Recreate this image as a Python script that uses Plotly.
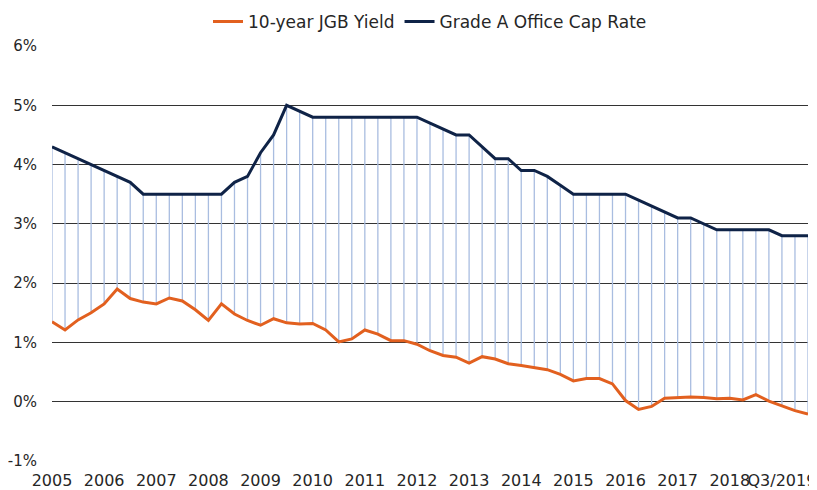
import plotly.graph_objects as go

# Quarterly categories 2005Q1 .. 2019Q3
quarters = [f"{y}Q{q}" for y in range(2005, 2020) for q in range(1, 5)][:59]

cap_rate = [4.3, 4.2, 4.1, 4.0, 3.9, 3.8, 3.7, 3.5, 3.5, 3.5, 3.5, 3.5, 3.5, 3.5,
            3.7, 3.8, 4.2, 4.5, 5.0, 4.9, 4.8, 4.8, 4.8, 4.8, 4.8, 4.8, 4.8, 4.8,
            4.8, 4.7, 4.6, 4.5, 4.5, 4.3, 4.1, 4.1, 3.9, 3.9, 3.8, 3.65, 3.5, 3.5,
            3.5, 3.5, 3.5, 3.4, 3.3, 3.2, 3.1, 3.1, 3.0, 2.9, 2.9, 2.9, 2.9, 2.9,
            2.8, 2.8, 2.8]

jgb_yield = [1.35, 1.21, 1.38, 1.50, 1.65, 1.90, 1.74, 1.68, 1.65, 1.75, 1.70, 1.55,
             1.37, 1.65, 1.48, 1.37, 1.29, 1.40, 1.33, 1.31, 1.32, 1.21, 1.01, 1.06,
             1.21, 1.14, 1.03, 1.03, 0.97, 0.86, 0.78, 0.75, 0.65, 0.76, 0.72, 0.64,
             0.61, 0.58, 0.54, 0.46, 0.35, 0.39, 0.39, 0.30, 0.02, -0.13, -0.08, 0.06,
             0.07, 0.08, 0.07, 0.05, 0.06, 0.03, 0.12, 0.01, -0.07, -0.15, -0.21]

tick_idx = [0, 4, 8, 12, 16, 20, 24, 28, 32, 36, 40, 44, 48, 52, 56]
tick_labels = ["2005", "2006", "2007", "2008", "2009", "2010", "2011", "2012",
               "2013", "2014", "2015", "2016", "2017", "2018", "Q3/2019"]

y_ticks = [-1, 0, 1, 2, 3, 4, 5, 6]
y_labels = ["-1%", "0%", "1%", "2%", "3%", "4%", "5%", "6%"]

xs = list(range(len(quarters)))

# drop lines between the two series
drop_x, drop_y = [], []
for i in xs:
    drop_x += [i, i, None]
    drop_y += [cap_rate[i], jgb_yield[i], None]

ORANGE = "#e2601f"
NAVY = "#0f2347"
DROP = "#a9bde0"
FONT = "DejaVu Sans"
TXT = "#262626"

fig = go.Figure()
fig.add_trace(go.Scatter(x=drop_x, y=drop_y, mode="lines",
                         line=dict(color=DROP, width=1.3),
                         showlegend=False, hoverinfo="skip"))
fig.add_trace(go.Scatter(x=xs, y=jgb_yield, mode="lines", name="10-year JGB Yield",
                         line=dict(color=ORANGE, width=3)))
fig.add_trace(go.Scatter(x=xs, y=cap_rate, mode="lines", name="Grade A Office Cap Rate",
                         line=dict(color=NAVY, width=3)))

# page has an 8px body margin, so the figure is sized to fill the rest of the window
fig.update_layout(
    width=809, height=482,
    margin=dict(l=44, r=9, t=38, b=29, autoexpand=False),
    paper_bgcolor="white", plot_bgcolor="white",
    font=dict(family=FONT, size=16, color=TXT),
    legend=dict(orientation="h", x=0.5, xanchor="center", y=1.058, yanchor="middle",
                font=dict(size=17, color=TXT), itemwidth=30,
                traceorder="normal", bgcolor="rgba(0,0,0,0)"),
    xaxis=dict(range=[0, 58], tickmode="array", tickvals=tick_idx, ticktext=tick_labels,
               showgrid=False, zeroline=False, showline=False, ticks="", tickangle=0,
               tickfont=dict(size=16, color=TXT), ticklabelstandoff=8),
    yaxis=dict(range=[-1, 6], tickmode="array", tickvals=y_ticks, ticktext=y_labels,
               showgrid=True, gridcolor="#333333", gridwidth=1, zeroline=False,
               showline=False, ticks="", tickfont=dict(size=15, color=TXT),
               ticklabelstandoff=14),
)

fig.write_html("out.html")
